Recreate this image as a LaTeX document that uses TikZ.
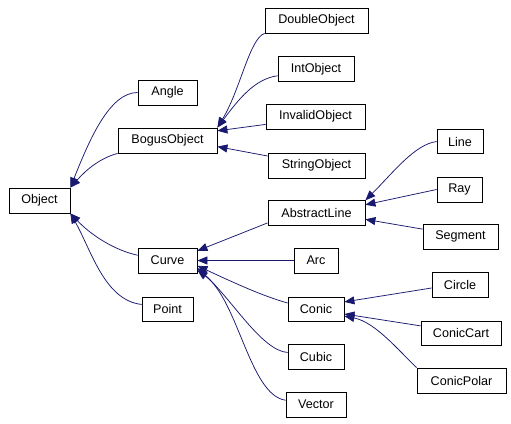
\documentclass[tikz,border=0pt]{standalone}
\usepackage{fontspec}
\setmainfont{Liberation Sans}
\usetikzlibrary{arrows.meta}
\definecolor{midblue}{RGB}{25,25,112}
\begin{document}
\begin{tikzpicture}[x=1pt,y=-1pt,
  cls/.style={draw=black,line width=0.8pt,fill=white,inner sep=0pt,minimum height=25pt,font=\fontsize{12.6}{14}\selectfont},
  edge/.style={draw=midblue,line width=0.75pt,-{Triangle[length=10pt,width=8pt]}}]
\useasboundingbox[fill=white] (0,0) rectangle (511,423);
% column 1
\node[cls,minimum width=61pt] (Object) at (39.5,200.5) {Object};
% column 2
\node[cls,minimum width=59pt] (Angle) at (167.5,92.5) {Angle};
\node[cls,minimum width=99pt] (Bogus) at (167.5,140.5) {BogusObject};
\node[cls,minimum width=59pt] (Curve) at (167.5,260.5) {Curve};
\node[cls,minimum width=51pt,minimum height=24pt] (Point) at (167.5,309) {Point};
% column 3
\node[cls,minimum width=103pt] (Double) at (316.5,20.5) {DoubleObject};
\node[cls,minimum width=76pt] (Int) at (316,69) {IntObject};
\node[cls,minimum width=99pt] (Invalid) at (315.5,116.5) {InvalidObject};
\node[cls,minimum width=97pt] (String) at (316.5,165.5) {StringObject};
\node[cls,minimum width=97pt] (Abstract) at (316.5,212.5) {AbstractLine};
\node[cls,minimum width=44pt] (Arc) at (316,260.5) {Arc};
\node[cls,minimum width=56pt,minimum height=24pt] (Conic) at (316,309) {Conic};
\node[cls,minimum width=56pt] (Cubic) at (316,357) {Cubic};
\node[cls,minimum width=60pt] (Vector) at (316,404.5) {Vector};
% column 4
\node[cls,minimum width=46pt,minimum height=24pt] (Line) at (460,141.5) {Line};
\node[cls,minimum width=45pt] (Ray) at (459.5,189.5) {Ray};
\node[cls,minimum width=75pt] (Segment) at (460.5,236.5) {Segment};
\node[cls,minimum width=56pt] (Circle) at (460,284.5) {Circle};
\node[cls,minimum width=80pt,minimum height=24pt] (Cart) at (461,333) {ConicCart};
\node[cls,minimum width=89pt] (Polar) at (461.5,380.5) {ConicPolar};
% edges to Object
\draw[edge] (Angle.west) .. controls +(-28,0) and +(19,-48) .. (Object.north east);
\draw[edge] (Bogus.south west) .. controls +(-18,5) and +(16,-18) .. (Object.north east);
\draw[edge] (Curve.170) .. controls +(-23,-5) and +(21,22) .. (Object.south east);
\draw[edge] (Point.170) .. controls +(-37,-4) and +(21,37) .. (Object.south east);
% edges to BogusObject
\draw[edge] (Double.south west) .. controls +(-15,5) and +(23,-38) .. (Bogus.north east);
\draw[edge] (Int.190) .. controls +(-23,3) and +(21,-28) .. (Bogus.north east);
\draw[edge] (Invalid.189) -- (Bogus.11);
\draw[edge] (String.169) -- (Bogus.-7);
% edges to Curve
\draw[edge] (Abstract.192) -- (Curve.18);
\draw[edge] (Arc.west) -- (Curve.east);
\draw[edge] (Conic.168) .. controls +(-26,-7) and +(28,13) .. (Curve.-10);
\draw[edge] (Cubic.171) .. controls +(-26,-2) and +(35,32) .. (Curve.-14);
\draw[edge] (Vector.172) .. controls +(-36,-5) and +(41,30) .. (Curve.-18);
% edges to AbstractLine
\draw[edge] (Line.west) .. controls +(-22,3) and +(28,-28) .. (Abstract.14);
\draw[edge] (Ray.west) -- (Abstract.9);
\draw[edge] (Segment.169) -- (Abstract.-8);
% edges to Conic
\draw[edge] (Circle.187) -- (Conic.14);
\draw[edge] (Cart.170) -- (Conic.-10);
\draw[edge] (Polar.north west) .. controls +(-17,-16) and +(31,6) .. (Conic.-14);
\end{tikzpicture}
\end{document}
